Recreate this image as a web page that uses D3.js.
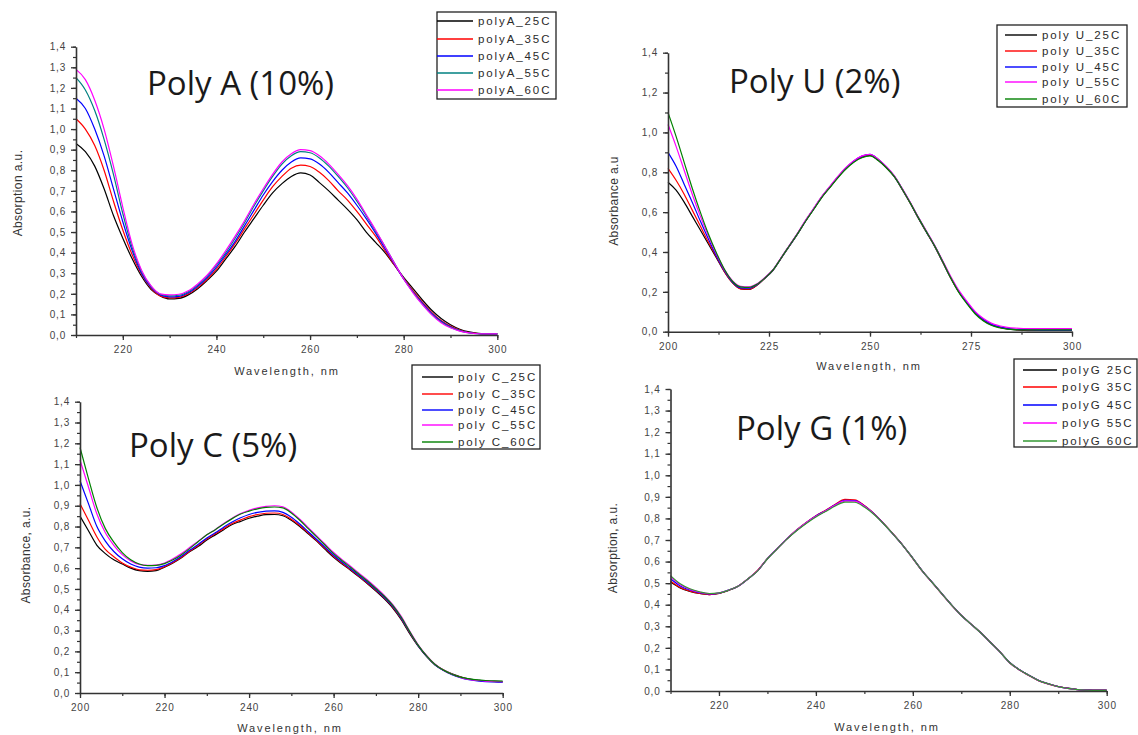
<!DOCTYPE html>
<html><head><meta charset="utf-8">
<script src="https://cdn.jsdelivr.net/npm/d3@7"></script>
<style>
html,body{margin:0;padding:0;background:#fff;}
svg{display:block;}
</style></head>
<body><svg id="chart" width="1138" height="735"></svg>
<script>
// ---------- DATA ----------
const tempLabels = ["25C","35C","45C","55C","60C"];

const wlA = [210,212,214,216,218,220,222,224,226,228,230,232,234,236,238,240,242,244,246,248,250,252,254,256,258,260,262,264,266,268,270,272,274,276,278,280,282,284,286,288,290,292,294,296,298,300];
const polyA_25 = [.93,.89,.82,.71,.58,.47,.37,.285,.222,.19,.175,.178,.195,.225,.265,.31,.37,.43,.50,.565,.63,.69,.735,.77,.787,.777,.74,.70,.655,.61,.56,.50,.45,.40,.34,.28,.225,.17,.12,.08,.05,.028,.015,.008,.005,.005];
const polyA_35 = [1.05,1.00,.92,.80,.65,.51,.39,.295,.228,.19,.18,.183,.20,.23,.27,.32,.38,.445,.515,.585,.655,.72,.77,.81,.825,.818,.79,.75,.70,.655,.60,.54,.48,.41,.34,.275,.215,.16,.11,.07,.043,.024,.012,.007,.005,.005];
const polyA_45 = [1.15,1.10,1.00,.87,.71,.55,.41,.30,.232,.195,.185,.188,.205,.237,.278,.33,.39,.455,.53,.605,.68,.745,.80,.84,.86,.855,.83,.79,.74,.69,.63,.565,.495,.42,.345,.272,.21,.155,.105,.067,.04,.022,.011,.006,.005,.005];
const polyA_55 = [1.25,1.19,1.09,.95,.78,.59,.425,.31,.237,.198,.19,.193,.21,.243,.285,.34,.40,.47,.545,.625,.70,.77,.83,.87,.89,.885,.86,.82,.77,.715,.65,.58,.505,.43,.35,.273,.208,.15,.10,.063,.037,.02,.01,.006,.005,.005];
const polyA_60 = [1.29,1.24,1.14,1.00,.82,.62,.44,.315,.24,.20,.195,.198,.215,.248,.29,.345,.41,.48,.555,.635,.71,.78,.84,.88,.90,.895,.87,.83,.78,.725,.66,.585,.51,.43,.35,.272,.205,.147,.098,.06,.035,.019,.01,.006,.005,.005];

const wlU = [200,202,204,206,208,210,212,214,216,218,220,222,224,226,228,230,232,234,236,238,240,242,244,246,248,250,252,254,256,258,260,262,264,266,268,270,272,274,276,278,280,282,284,286,288,290,295,300];
const polyU_25 = [.75,.71,.65,.58,.51,.44,.37,.30,.245,.215,.212,.233,.268,.308,.368,.428,.488,.553,.613,.673,.723,.773,.818,.853,.876,.885,.86,.823,.778,.713,.643,.568,.498,.428,.348,.268,.198,.143,.093,.058,.035,.022,.014,.009,.006,.005,.005,.005];
const polyU_35 = [.82,.76,.69,.61,.53,.45,.375,.30,.245,.215,.213,.234,.27,.31,.37,.43,.49,.555,.615,.675,.725,.775,.82,.856,.88,.889,.865,.827,.78,.715,.645,.57,.50,.43,.35,.27,.20,.145,.095,.06,.036,.023,.015,.011,.009,.008,.008,.008];
const polyU_45 = [.90,.83,.74,.65,.555,.465,.38,.305,.248,.22,.218,.236,.27,.31,.37,.43,.49,.555,.615,.675,.726,.776,.821,.857,.881,.89,.866,.828,.781,.716,.646,.571,.501,.431,.352,.272,.202,.147,.097,.062,.038,.025,.017,.012,.01,.009,.008,.008];
const polyU_55 = [1.04,.93,.81,.69,.58,.48,.39,.31,.255,.228,.225,.24,.272,.312,.372,.432,.492,.557,.617,.677,.728,.778,.823,.858,.882,.89,.866,.829,.783,.718,.648,.574,.504,.434,.356,.277,.207,.152,.102,.067,.043,.03,.022,.018,.016,.015,.015,.015];
const polyU_60 = [1.10,.98,.85,.72,.60,.49,.395,.312,.252,.225,.222,.238,.27,.31,.37,.43,.49,.553,.612,.672,.722,.771,.815,.85,.873,.882,.86,.824,.779,.715,.645,.571,.501,.431,.352,.27,.197,.14,.09,.055,.032,.02,.013,.01,.009,.009,.009,.009];

const wlC = [200,202,204,206,208,210,212,214,216,218,220,222,224,226,228,230,232,234,236,238,240,242,244,246,248,250,252,254,256,258,260,262,264,266,268,270,272,274,276,278,280,282,284,286,288,290,292,294,296,298,300];
const polyC_25 = [.85,.78,.71,.67,.64,.62,.60,.588,.585,.588,.605,.625,.65,.68,.705,.735,.76,.785,.81,.825,.84,.85,.857,.858,.852,.83,.80,.765,.73,.69,.652,.62,.59,.558,.525,.49,.452,.408,.352,.285,.225,.175,.135,.11,.092,.078,.068,.062,.057,.056,.055];
const polyC_35 = [.91,.83,.75,.69,.655,.625,.605,.592,.59,.593,.607,.627,.652,.683,.71,.74,.765,.79,.815,.832,.848,.858,.864,.865,.858,.835,.805,.77,.733,.695,.657,.624,.593,.561,.528,.494,.457,.413,.357,.29,.228,.178,.137,.11,.09,.076,.066,.06,.056,.055,.054];
const polyC_45 = [1.02,.91,.80,.73,.68,.645,.62,.605,.60,.602,.612,.632,.657,.687,.715,.745,.77,.797,.822,.842,.858,.868,.874,.875,.868,.845,.812,.775,.738,.70,.662,.628,.597,.565,.532,.497,.46,.416,.36,.292,.228,.177,.136,.108,.088,.074,.064,.058,.054,.053,.052];
const polyC_55 = [1.12,.99,.86,.77,.71,.665,.635,.618,.613,.615,.625,.645,.67,.70,.73,.76,.785,.815,.84,.862,.878,.89,.897,.90,.895,.87,.835,.795,.755,.715,.675,.641,.609,.576,.543,.507,.469,.425,.368,.298,.232,.18,.138,.11,.09,.075,.065,.06,.057,.056,.055];
const polyC_60 = [1.18,1.03,.89,.79,.725,.675,.64,.62,.612,.613,.622,.64,.665,.695,.728,.76,.785,.812,.838,.86,.874,.885,.892,.894,.89,.865,.83,.79,.75,.71,.67,.636,.604,.571,.538,.502,.465,.421,.364,.295,.23,.178,.137,.11,.09,.076,.068,.063,.06,.058,.057];

const wlG = [210,212,214,216,218,220,222,224,226,228,230,232,234,236,238,240,242,244,246,248,250,252,254,256,258,260,262,264,266,268,270,272,274,276,278,280,282,284,286,288,290,292,294,296,298,300];
const polyG_25 = [.505,.478,.462,.452,.447,.452,.466,.486,.519,.558,.613,.659,.704,.744,.779,.81,.835,.862,.882,.882,.858,.821,.776,.726,.674,.616,.556,.504,.451,.399,.351,.311,.271,.226,.181,.132,.099,.073,.049,.034,.021,.013,.007,.005,.004,.004];
const polyG_35 = [.51,.48,.463,.452,.447,.452,.467,.487,.52,.56,.614,.66,.705,.746,.781,.812,.838,.866,.888,.886,.86,.822,.776,.726,.673,.614,.554,.502,.449,.397,.35,.31,.27,.225,.18,.13,.097,.071,.047,.032,.02,.012,.006,.004,.003,.003];
const polyG_45 = [.52,.487,.468,.456,.45,.454,.468,.487,.52,.558,.614,.66,.705,.745,.78,.811,.836,.863,.884,.883,.858,.821,.775,.725,.673,.615,.555,.503,.45,.398,.35,.31,.27,.225,.18,.131,.098,.072,.048,.033,.02,.012,.006,.004,.003,.003];
const polyG_55 = [.53,.492,.471,.458,.451,.455,.468,.487,.52,.558,.614,.66,.705,.745,.78,.81,.835,.862,.881,.88,.857,.82,.775,.725,.673,.615,.555,.503,.45,.398,.35,.31,.27,.225,.18,.131,.098,.072,.048,.033,.02,.012,.006,.004,.003,.003];
const polyG_60 = [.535,.497,.474,.46,.452,.455,.468,.487,.52,.557,.613,.659,.704,.743,.777,.807,.832,.858,.876,.875,.853,.818,.774,.725,.673,.615,.555,.503,.45,.398,.35,.31,.27,.225,.18,.131,.098,.072,.048,.033,.02,.012,.006,.004,.003,.003];

const xTicksA = [220,240,260,280,300];
const xTicksU = [200,225,250,275,300];
const xTicksC = [200,220,240,260,280,300];
const xTicksG = [220,240,260,280,300];
const yTicksFine = [0,0.1,0.2,0.3,0.4,0.5,0.6,0.7,0.8,0.9,1.0,1.1,1.2,1.3,1.4];
const yTicksCoarse = [0,0.2,0.4,0.6,0.8,1.0,1.2,1.4];

// ---------- LAYOUT ----------
const panels = [
  {title:"Poly A (10%)", wl:wlA, series:[polyA_25,polyA_35,polyA_45,polyA_55,polyA_60],
   colors:["#000000","#ff0000","#0000ff","#008080","#ff00ff"],
   names:tempLabels.map(t=>"polyA_"+t),
   xd:[210,300], xr:[76,497.3], yr:[335,46.7], xt:xTicksA, xm:10, yt:yTicksFine, ym:0.05,
   ylab:"Absorption a.u.", ylx:18, yly:193, xlx:287, xly:371,
   tx:147, ty:95, leg:{x:437,y:12,w:119,h:87,lx0:437,lx1:473,tx:478,rows:[21,39,56,73,90]}},
  {title:"Poly U (2%)", wl:wlU, series:[polyU_25,polyU_35,polyU_45,polyU_55,polyU_60],
   colors:["#000000","#ff0000","#0000ff","#ff00ff","#008000"],
   names:tempLabels.map(t=>"poly U_"+t),
   xd:[200,300], xr:[668,1072], yr:[331.7,52.7], xt:xTicksU, xm:12.5, yt:yTicksCoarse, ym:0.1,
   ylab:"Absorbance a.u", ylx:614, yly:201, xlx:869, xly:366,
   tx:729, ty:93, leg:{x:997,y:25,w:130,h:82,lx0:1005,lx1:1037,tx:1042,rows:[35,51,67,82,99]}},
  {title:"Poly C (5%)", wl:wlC, series:[polyC_25,polyC_35,polyC_45,polyC_55,polyC_60],
   colors:["#000000","#ff0000","#0000ff","#ff00ff","#008000"],
   names:tempLabels.map(t=>"poly C_"+t),
   xd:[200,300], xr:[80,502.7], yr:[693,401.7], xt:xTicksC, xm:10, yt:yTicksFine, ym:0.05,
   ylab:"Absorbance, a.u.", ylx:26, yly:555, xlx:290, xly:728,
   tx:129, ty:457, leg:{x:412,y:365,w:128,h:84,lx0:422,lx1:453,tx:458,rows:[377,394,410,425,442]}},
  {title:"Poly G (1%)", wl:wlG, series:[polyG_25,polyG_35,polyG_45,polyG_55,polyG_60],
   colors:["#000000","#ff0000","#0000ff","#ff00ff","#339933"],
   names:tempLabels.map(t=>"polyG "+t),
   xd:[210,300], xr:[670.5,1106.7], yr:[691,389], xt:xTicksG, xm:10, yt:yTicksFine, ym:0.05,
   ylab:"Absorption, a.u.", ylx:613, yly:548, xlx:887, xly:727,
   tx:736, ty:440, leg:{x:1014,y:359,w:123,h:88,lx0:1023,lx1:1057,tx:1062,rows:[370,387,405,423,441]}}
];

const svg = d3.select("#chart");
svg.append("rect").attr("width",1138).attr("height",735).attr("fill","#fff");
const fmtY = v => d3.format(".1f")(v).replace(".", ",");

panels.forEach(p => {
  const x = d3.scaleLinear().domain(p.xd).range(p.xr);
  const y = d3.scaleLinear().domain([0,1.4]).range(p.yr);
  const g = svg.append("g");

  // curves
  const line = d3.line().x(d=>x(d[0])).y(d=>y(d[1])).curve(d3.curveMonotoneX);
  p.series.forEach((s,i) => {
    const pts = d3.zip(p.wl, s);
    g.append("path").datum(pts).attr("d", line)
      .attr("fill","none").attr("stroke",p.colors[i]).attr("stroke-width",1.2);
  });

  // minor ticks
  const minorX = d3.range(p.xd[0], p.xd[1]+0.001, p.xm);
  const minorY = d3.range(0, 1.4001, p.ym);
  const gxm = g.append("g").attr("transform",`translate(0,${p.yr[0]})`)
    .call(d3.axisBottom(x).tickValues(minorX).tickSize(3).tickSizeOuter(0).tickFormat(""));
  const gym = g.append("g").attr("transform",`translate(${p.xr[0]},0)`)
    .call(d3.axisLeft(y).tickValues(minorY).tickSize(3).tickSizeOuter(0).tickFormat(""));
  [gxm,gym].forEach(a=>{a.select(".domain").remove(); a.selectAll("line").attr("stroke","#333").attr("stroke-width",1.2);});

  // major axes
  const gx = g.append("g").attr("transform",`translate(0,${p.yr[0]})`)
    .call(d3.axisBottom(x).tickValues(p.xt).tickSize(5).tickSizeOuter(0).tickPadding(6).tickFormat(d3.format("d")));
  const gy = g.append("g").attr("transform",`translate(${p.xr[0]},0)`)
    .call(d3.axisLeft(y).tickValues(p.yt).tickSize(5).tickSizeOuter(0).tickPadding(5).tickFormat(fmtY));
  [gx,gy].forEach(a=>{
    a.select(".domain").attr("stroke","#333").attr("stroke-width",1.6);
    a.selectAll("line").attr("stroke","#333").attr("stroke-width",1.3);
    a.selectAll("text").attr("fill","#444").style("font-family","'Liberation Sans',Arial,sans-serif")
      .style("font-size","10px").style("letter-spacing","0.8px");
  });

  // title
  g.append("text").attr("x",p.tx).attr("y",p.ty).text(p.title)
    .style("font-family","'Open Sans',Lato,sans-serif").style("font-size","33px").attr("fill","#1a1a1a");

  // axis titles
  g.append("text").attr("x",p.xlx).attr("y",p.xly).attr("dy","0.35em").attr("text-anchor","middle")
    .text("Wavelength, nm").attr("fill","#333")
    .style("font-family","'Liberation Sans',Arial,sans-serif").style("font-size","11px").style("letter-spacing","1.9px");
  g.append("text").attr("transform",`translate(${p.ylx},${p.yly}) rotate(-90)`).attr("dy","0.35em")
    .attr("text-anchor","middle").text(p.ylab).attr("fill","#333")
    .style("font-family","'Liberation Sans',Arial,sans-serif").style("font-size","12px").style("letter-spacing","0.4px");

  // legend
  const L = p.leg;
  g.append("rect").attr("x",L.x).attr("y",L.y).attr("width",L.w).attr("height",L.h)
    .attr("fill","#fff").attr("stroke","#222").attr("stroke-width",1.3);
  p.names.forEach((n,i)=>{
    g.append("line").attr("x1",L.lx0).attr("x2",L.lx1).attr("y1",L.rows[i]).attr("y2",L.rows[i])
      .attr("stroke",p.colors[i]).attr("stroke-width",1.4);
    g.append("text").attr("x",L.tx).attr("y",L.rows[i]).attr("dy","0.35em").text(n).attr("fill","#2a2a2a")
      .style("font-family","'Liberation Sans',Arial,sans-serif").style("font-size","11.5px").style("letter-spacing","1.9px");
  });
});
</script></body></html>
